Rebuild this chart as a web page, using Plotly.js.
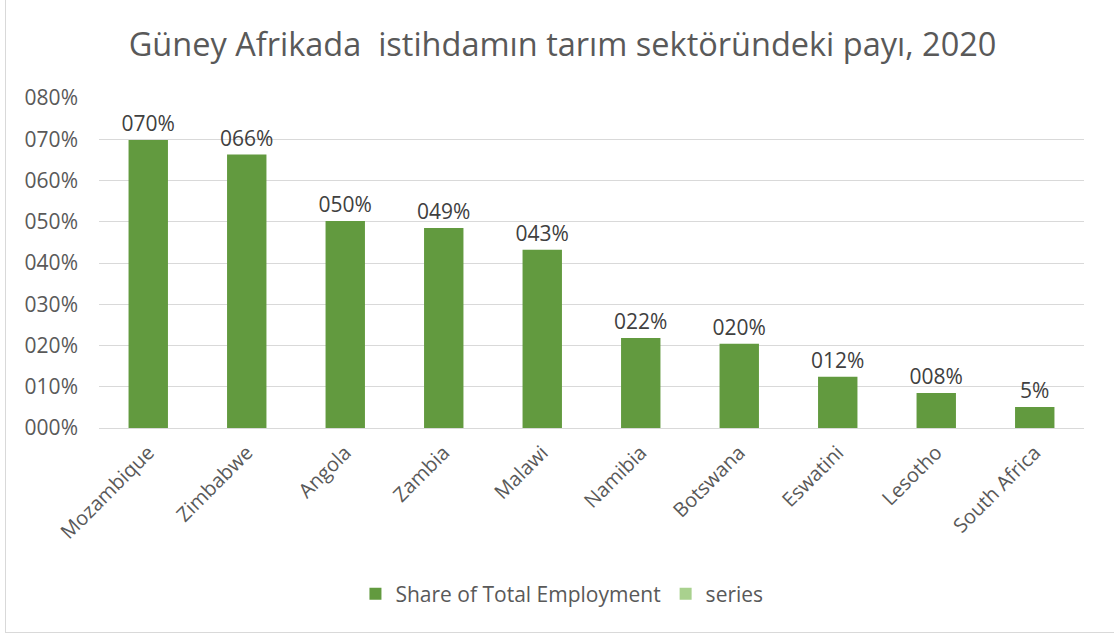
<!DOCTYPE html>
<html>
<head>
<meta charset="utf-8">
<script src="https://cdn.plot.ly/plotly-3.0.1.min.js"></script>
<style>
  body { margin: 0; padding: 0; background: #fff; }
  #wrap { position: relative; width: 1114px; height: 635px; }
  #chart { position: absolute; left: 0; top: 0; width: 1114px; height: 635px; }
  #frame { position: absolute; left: 5px; top: 0px; width: 1120px; height: 632px;
           border-left: 1px solid #d9d9d9; border-bottom: 1px solid #d9d9d9; pointer-events: none; }
</style>
</head>
<body>
<div id="wrap">
  <div id="chart"></div>
  <div id="frame"></div>
</div>
<script>
const countries = ["Mozambique", "Zimbabwe", "Angola", "Zambia", "Malawi", "Namibia", "Botswana", "Eswatini", "Lesotho", "South Africa"];
const shareValues = [69.8, 66.3, 50.2, 48.5, 43.2, 21.8, 20.4, 12.4, 8.5, 5.1];
const shareLabels = ["070%", "066%", "050%", "049%", "043%", "022%", "020%", "012%", "008%", "5%"];
const seriesValues = [null, null, null, null, null, null, null, null, null, null];
const yTickVals = [0, 10, 20, 30, 40, 50, 60, 70, 80];
const yTickText = ["000%", "010%", "020%", "030%", "040%", "050%", "060%", "070%", "080%"];

const FONT = "'Open Sans', sans-serif";

const traces = [
  {
    type: "bar",
    name: "Share of Total Employment",
    x: countries,
    y: shareValues,
    text: shareLabels,
    textposition: "outside",
    constraintext: "none",
    cliponaxis: false,
    textfont: { family: FONT, size: 21, color: "#404040" },
    marker: { color: "#629a3f" },
    hoverinfo: "x+y"
  },
  {
    type: "bar",
    name: "series",
    x: countries,
    y: seriesValues,
    marker: { color: "#a9d18e" }
  }
];

const layout = {
  width: 1114,
  height: 635,
  paper_bgcolor: "rgba(0,0,0,0)",
  plot_bgcolor: "rgba(0,0,0,0)",
  margin: { l: 99, r: 30, t: 98, b: 207 },
  font: { family: FONT, color: "#595959" },
  title: {
    text: "Güney Afrikada  istihdamın tarım sektöründeki payı, 2020",
    font: { family: FONT, size: 32.5, color: "#595959" },
    x: 0.505, xanchor: "center",
    y: 1 - 45 / 635, yanchor: "middle", yref: "container"
  },
  barmode: "overlay",
  bargap: 0.6,
  showlegend: true,
  legend: {
    orientation: "h",
    x: 0.47, xanchor: "center",
    y: -0.503, yanchor: "middle",
    font: { family: FONT, size: 21, color: "#595959" },
    itemwidth: 30,
    tracegroupgap: 0
  },
  xaxis: {
    type: "category",
    tickangle: -45,
    tickfont: { family: FONT, size: 20, color: "#595959" },
    ticklabelstandoff: 4,
    showgrid: false,
    showline: true,
    linecolor: "#d9d9d9",
    linewidth: 1,
    ticks: "",
    fixedrange: true
  },
  yaxis: {
    range: [0, 80],
    tickvals: yTickVals,
    ticktext: yTickText,
    tickfont: { family: FONT, size: 21, color: "#595959" },
    ticklabelstandoff: 20,
    showgrid: true,
    gridcolor: "#d9d9d9",
    gridwidth: 1,
    zeroline: false,
    showline: false,
    ticks: "",
    ticklen: 0,
    fixedrange: true
  }
};

Plotly.newPlot("chart", traces, layout, { displayModeBar: false, staticPlot: true });
</script>
</body>
</html>
